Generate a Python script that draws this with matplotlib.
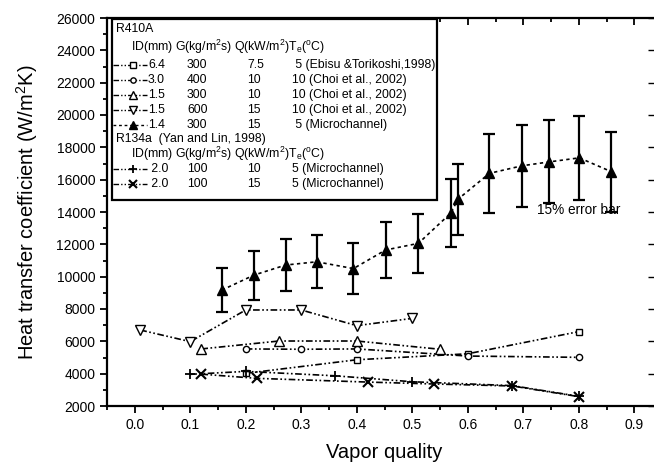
import numpy as np
import matplotlib.pyplot as plt
from matplotlib.lines import Line2D
from matplotlib.patches import Rectangle
from matplotlib.ticker import MultipleLocator

plt.rcParams['font.family'] = ['Liberation Sans', 'DejaVu Sans']
plt.rcParams['mathtext.fontset'] = 'custom'
plt.rcParams['mathtext.rm'] = 'Liberation Sans'
plt.rcParams['mathtext.it'] = 'Liberation Sans'

# R410A, Ebisu & Torikoshi 1998 (6.4 mm)
x_sq = [0.20, 0.40, 0.60, 0.80]
h_sq = [4020, 4860, 5230, 6600]
# R410A, Choi et al. 2002 (3.0 mm, G=400)
x_ci = [0.20, 0.30, 0.40, 0.60, 0.80]
h_ci = [5530, 5510, 5530, 5090, 5010]
# R410A, Choi et al. 2002 (1.5 mm, G=300)
x_tu = [0.12, 0.26, 0.40, 0.55]
h_tu = [5530, 6020, 6020, 5510]
# R410A, Choi et al. 2002 (1.5 mm, G=600)
x_td = [0.01, 0.10, 0.20, 0.30, 0.40, 0.50]
h_td = [6700, 5980, 7940, 7940, 6970, 7420]
# R410A, microchannel 1.4 mm
x_mc = [0.157, 0.215, 0.272, 0.328, 0.394, 0.452, 0.511, 0.570, 0.582,
        0.639, 0.698, 0.747, 0.801, 0.859]
h_mc = [9170, 10100, 10720, 10920, 10500, 11650, 12060, 13950, 14780,
        16390, 16860, 17100, 17350, 16490]
err_frac = 0.15
# R134a, Yan and Lin 1998
x_pl = [0.10, 0.20, 0.36, 0.50, 0.68, 0.80]
h_pl = [3960, 4140, 3870, 3500, 3260, 2600]
x_x = [0.12, 0.22, 0.42, 0.54, 0.68, 0.80]
h_x = [3970, 3710, 3480, 3360, 3240, 2580]

# legend table
leg_id = ['6.4', '3.0', '1.5', '1.5', '1.4', ' 2.0', ' 2.0']
leg_g = ['300', '400', '300', '600', '300', '100', '100']
leg_q = ['7.5', '10', '10', '15', '15', '10', '15']
leg_te = [' 5 (Ebisu &Torikoshi,1998)', '10 (Choi et al., 2002)',
          '10 (Choi et al., 2002)', '10 (Choi et al., 2002)',
          ' 5 (Microchannel)', '5 (Microchannel)', '5 (Microchannel)']

ddd = (0, (4, 1.5, 1, 1.5, 1, 1.5))
dot = (0, (2, 2))

fig = plt.figure(figsize=(6.54, 4.70), dpi=100)
ax = fig.add_axes([107 / 654, 64 / 470, 555 / 654, 388 / 470])

styles = [
    dict(marker='s', ms=4.5, mfc='white', ls=ddd),
    dict(marker='o', ms=4.5, mfc='white', ls=ddd),
    dict(marker='^', ms=6.5, mfc='white', ls=ddd),
    dict(marker='v', ms=6.5, mfc='white', ls=ddd),
    dict(marker='^', ms=7.5, mfc='black', ls=dot),
    dict(marker='+', ms=7.5, mew=1.3, ls=ddd),
    dict(marker='x', ms=7, mew=1.5, ls=ddd),
]
common = dict(color='black', lw=1.2, mec='black')

ax.plot(x_sq, h_sq, **styles[0], **common)
ax.plot(x_ci, h_ci, **styles[1], **common)
ax.plot(x_tu, h_tu, **styles[2], **common)
ax.plot(x_td, h_td, **styles[3], **common)
ax.errorbar(x_mc, h_mc, yerr=err_frac * np.array(h_mc), capsize=4,
            elinewidth=1.6, capthick=1.6, ecolor='black', **styles[4], **common)
ax.plot(x_pl, h_pl, **styles[5], **common)
ax.plot(x_x, h_x, **styles[6], **common)

ax.text(0.725, 14150, '15% error bar', fontsize=9.8, va='center')

ax.set_xlim(-0.05, 0.95)
ax.set_ylim(2000, 26000)
ax.xaxis.set_major_locator(MultipleLocator(0.1))
ax.xaxis.set_minor_locator(MultipleLocator(0.05))
ax.yaxis.set_major_locator(MultipleLocator(2000))
ax.yaxis.set_minor_locator(MultipleLocator(1000))
ax.xaxis.set_major_formatter(plt.FuncFormatter(lambda v, p: f'{v:.1f}'))
ax.tick_params(which='both', direction='out', width=1.3, labelsize=10)
ax.tick_params(which='major', length=5)
ax.tick_params(which='minor', length=3)
for s in ax.spines.values():
    s.set_linewidth(1.6)
ax.spines['right'].set_visible(False)

# inward ticks on the top and right edges
top = ax.secondary_xaxis('top')
top.xaxis.set_major_locator(MultipleLocator(0.1))
top.xaxis.set_minor_locator(MultipleLocator(0.05))
top.tick_params(which='both', direction='in', width=1.3, labeltop=False)
top.tick_params(which='major', length=5)
top.tick_params(which='minor', length=3)
top.spines['top'].set_linewidth(1.6)
ax.spines['top'].set_visible(False)
right = ax.secondary_yaxis('right')
right.yaxis.set_major_locator(MultipleLocator(2000))
right.tick_params(direction='in', length=10, width=1.0, labelright=False)
right.spines['right'].set_visible(False)

ax.set_xlabel('Vapor quality', fontsize=14.5)
ax.set_ylabel('Heat transfer coefficient (W/m$^2$K)', fontsize=14.5)
ax.xaxis.set_label_coords(0.5, -0.095)
ax.yaxis.set_label_coords(-0.12, 0.5)


# legend box placed in pixel-like axes fractions
def fx(px):
    return (px - 107) / 555


def fy(py):
    return (406 - py) / 388


tr = ax.transAxes
ax.add_patch(Rectangle((fx(112), fy(200)), fx(437) - fx(112), fy(19) - fy(200),
                       transform=tr, facecolor='white', edgecolor='black',
                       lw=1.6, zorder=5))
fs = 8.8
hdr = 'ID(mm) G(kg/m$^2$s) Q(kW/m$^2$)T$_e$($^o$C)'
ax.text(fx(116), fy(29), 'R410A', transform=tr, fontsize=fs, va='center', zorder=6)
ax.text(fx(131), fy(47), hdr, transform=tr, fontsize=fs, va='center', zorder=6)
ax.text(fx(116), fy(139), 'R134a  (Yan and Lin, 1998)', transform=tr,
        fontsize=fs, va='center', zorder=6)
ax.text(fx(131), fy(154), hdr, transform=tr, fontsize=fs, va='center', zorder=6)
row_y = [65, 80, 95, 110, 125, 169, 184]
for i, py in enumerate(row_y):
    st = styles[i]
    ax.add_line(Line2D([fx(113), fx(147)], [fy(py), fy(py)], transform=tr,
                       zorder=6, color='black', lw=1.0, ls=st['ls']))
    ax.add_line(Line2D([fx(133)], [fy(py)], transform=tr, zorder=7,
                       color='black', mec='black', ls='none',
                       marker=st['marker'], ms=st['ms'] * 0.85,
                       mfc=st.get('mfc', 'black'), mew=st.get('mew', 1.0)))
    ax.text(fx(148), fy(py), leg_id[i], transform=tr, fontsize=fs, va='center', zorder=6)
    ax.text(fx(187), fy(py), leg_g[i], transform=tr, fontsize=fs, va='center', zorder=6)
    ax.text(fx(247), fy(py), leg_q[i], transform=tr, fontsize=fs, va='center', zorder=6)
    ax.text(fx(292), fy(py), leg_te[i], transform=tr, fontsize=fs, va='center', zorder=6)

fig.savefig('out.png', dpi=100)
